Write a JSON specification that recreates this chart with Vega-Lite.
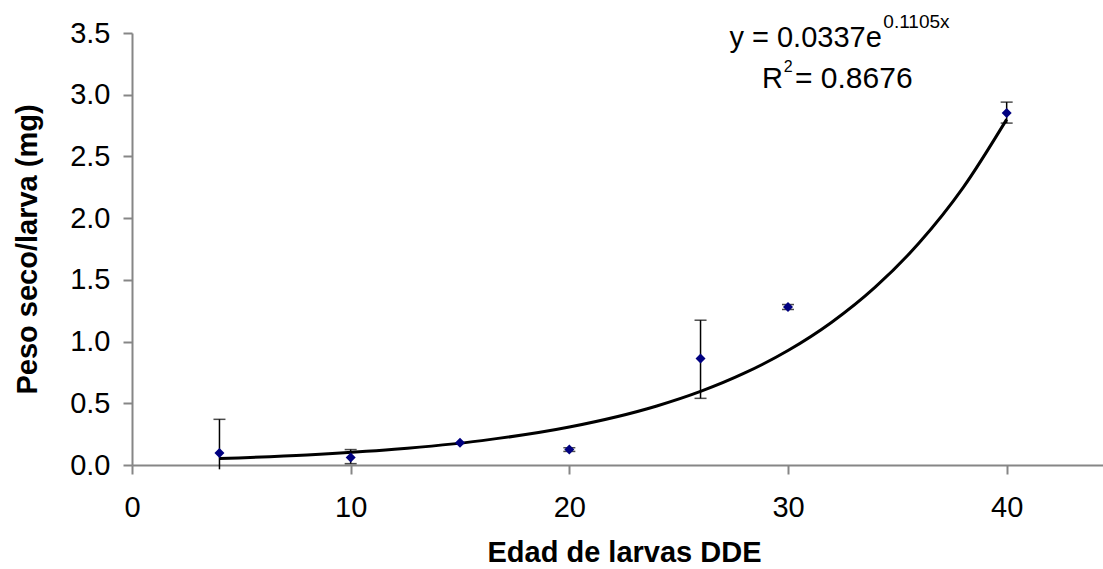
{
  "$schema": "https://vega.github.io/schema/vega-lite/v6.json",
  "width": 984,
  "height": 432,
  "autosize": "none",
  "padding": {"left": 132, "top": 33, "right": 0, "bottom": 104},
  "background": "white",
  "config": {
    "view": {"stroke": null},
    "font": "Liberation Sans",
    "axis": {
      "grid": false,
      "domainColor": "#868686",
      "domainWidth": 2,
      "tickColor": "#868686",
      "tickWidth": 2,
      "tickSize": 9,
      "labelColor": "black",
      "labelFont": "Liberation Sans",
      "labelFontSize": 29,
      "titleFont": "Liberation Sans",
      "titleFontSize": 29,
      "titleFontWeight": "bold",
      "titleColor": "black"
    }
  },
  "datasets": {
    "obs": [
      {"edad": 4, "peso": 0.097, "lo": -0.035, "hi": 0.37, "capLo": null, "capHi": 0.37},
      {"edad": 10, "peso": 0.06, "lo": 0.011, "hi": 0.125, "capLo": 0.011, "capHi": 0.125},
      {"edad": 15, "peso": 0.18, "lo": 0.17, "hi": 0.19, "capLo": null, "capHi": null},
      {"edad": 20, "peso": 0.125, "lo": 0.11, "hi": 0.14, "capLo": 0.11, "capHi": 0.14},
      {"edad": 26, "peso": 0.862, "lo": 0.54, "hi": 1.173, "capLo": 0.54, "capHi": 1.173},
      {"edad": 30, "peso": 1.28, "lo": 1.26, "hi": 1.3, "capLo": 1.26, "capHi": 1.3},
      {"edad": 40, "peso": 2.852, "lo": 2.77, "hi": 2.94, "capLo": 2.77, "capHi": 2.94}
    ],
    "trend": [
      {"edad": 4, "peso": 0.0524},
      {"edad": 8, "peso": 0.0816},
      {"edad": 12, "peso": 0.1269},
      {"edad": 16, "peso": 0.1975},
      {"edad": 20, "peso": 0.3072},
      {"edad": 24, "peso": 0.4779},
      {"edad": 26, "peso": 0.596},
      {"edad": 28, "peso": 0.7437},
      {"edad": 30, "peso": 0.9275},
      {"edad": 32, "peso": 1.157},
      {"edad": 34, "peso": 1.443},
      {"edad": 36, "peso": 1.8},
      {"edad": 38, "peso": 2.245},
      {"edad": 40, "peso": 2.8}
    ]
  },
  "layer": [
    {
      "data": {"name": "obs"},
      "mark": {"type": "rule", "color": "black", "strokeWidth": 1.5},
      "encoding": {
        "x": {
          "field": "edad", "type": "quantitative",
          "scale": {"domain": [0, 45], "nice": false},
          "axis": {"values": [0, 10, 20, 30, 40], "labelPadding": 19, "titlePadding": 16, "labelFlush": false},
          "title": "Edad de larvas DDE"
        },
        "y": {
          "field": "lo", "type": "quantitative",
          "scale": {"domain": [0, 3.5], "nice": false},
          "axis": {"values": [0, 0.5, 1, 1.5, 2, 2.5, 3, 3.5], "format": ".1f", "labelPadding": 13, "titlePadding": 27, "labelFlush": false},
          "title": "Peso seco/larva (mg)"
        },
        "y2": {"field": "hi"}
      }
    },
    {
      "data": {"name": "obs"},
      "transform": [
        {"fold": ["capLo", "capHi"], "as": ["cap", "capval"]},
        {"filter": "isValid(datum.capval)"}
      ],
      "mark": {"type": "tick", "orient": "horizontal", "color": "black", "size": 12, "thickness": 1.5},
      "encoding": {
        "x": {"field": "edad", "type": "quantitative"},
        "y": {"field": "capval", "type": "quantitative"}
      }
    },
    {
      "data": {"name": "trend"},
      "mark": {"type": "line", "color": "black", "strokeWidth": 3, "interpolate": "monotone"},
      "encoding": {
        "x": {"field": "edad", "type": "quantitative"},
        "y": {"field": "peso", "type": "quantitative"}
      }
    },
    {
      "data": {"name": "obs"},
      "mark": {"type": "point", "shape": "diamond", "filled": true, "color": "#000080", "opacity": 1, "size": 100},
      "encoding": {
        "x": {"field": "edad", "type": "quantitative"},
        "y": {"field": "peso", "type": "quantitative"}
      }
    },
    {
      "data": {"values": [{}]},
      "mark": {"type": "text", "text": "y = 0.0337e", "align": "right", "baseline": "alphabetic", "fontSize": 29, "font": "Liberation Sans", "color": "black"},
      "encoding": {"x": {"datum": 34.29}, "y": {"datum": 3.385}}
    },
    {
      "data": {"values": [{}]},
      "mark": {"type": "text", "text": "0.1105x", "align": "left", "baseline": "alphabetic", "fontSize": 19, "font": "Liberation Sans", "color": "black"},
      "encoding": {"x": {"datum": 34.36}, "y": {"datum": 3.539}}
    },
    {
      "data": {"values": [{}]},
      "mark": {"type": "text", "text": "R", "align": "left", "baseline": "alphabetic", "fontSize": 29, "font": "Liberation Sans", "color": "black"},
      "encoding": {"x": {"datum": 28.81}, "y": {"datum": 3.052}}
    },
    {
      "data": {"values": [{}]},
      "mark": {"type": "text", "text": "2", "align": "left", "baseline": "alphabetic", "fontSize": 16, "font": "Liberation Sans", "color": "black"},
      "encoding": {"x": {"datum": 29.8}, "y": {"datum": 3.18}}
    },
    {
      "data": {"values": [{}]},
      "mark": {"type": "text", "text": "= 0.8676", "align": "left", "baseline": "alphabetic", "fontSize": 30, "font": "Liberation Sans", "color": "black"},
      "encoding": {"x": {"datum": 30.32}, "y": {"datum": 3.052}}
    }
  ]
}
